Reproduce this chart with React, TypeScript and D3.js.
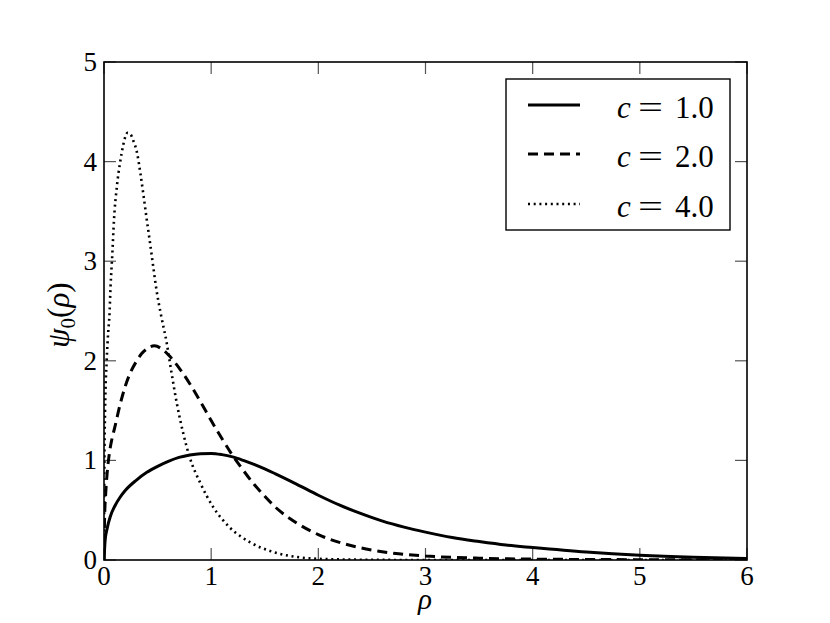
import React from "react";
import * as d3 from "d3";

const xTicks = [0, 1, 2, 3, 4, 5, 6];
const yTicks = [0, 1, 2, 3, 4, 5];

const rho1 = [0, 0.01, 0.03, 0.06, 0.1, 0.15, 0.2, 0.3, 0.4, 0.5, 0.6, 0.7, 0.8, 0.9, 1.0, 1.1, 1.2, 1.3, 1.4, 1.5, 1.6, 1.8, 2.0, 2.2, 2.4, 2.6, 2.8, 3.0, 3.25, 3.5, 3.75, 4.0, 4.5, 5.0, 5.5, 6.0];
const psi1 = [0, 0.19, 0.32, 0.44, 0.54, 0.63, 0.7, 0.8, 0.88, 0.94, 0.99, 1.03, 1.055, 1.068, 1.07, 1.058, 1.035, 1.0, 0.96, 0.915, 0.865, 0.76, 0.65, 0.55, 0.465, 0.39, 0.33, 0.28, 0.225, 0.185, 0.15, 0.125, 0.08, 0.048, 0.028, 0.016];

const rho2 = [0, 0.005, 0.015, 0.03, 0.05, 0.075, 0.1, 0.15, 0.2, 0.25, 0.3, 0.35, 0.4, 0.47, 0.55, 0.6, 0.7, 0.8, 0.9, 1.0, 1.1, 1.2, 1.3, 1.4, 1.5, 1.6, 1.8, 2.0, 2.25, 2.5, 2.75, 3.0, 3.5, 4.0, 5.0, 6.0];
const psi2 = [0, 0.4, 0.65, 0.88, 1.07, 1.22, 1.33, 1.56, 1.75, 1.89, 1.99, 2.07, 2.12, 2.15, 2.11, 2.06, 1.93, 1.77, 1.59, 1.4, 1.22, 1.05, 0.9, 0.76, 0.64, 0.53, 0.37, 0.255, 0.16, 0.1, 0.062, 0.04, 0.018, 0.009, 0.003, 0.001];

const rho4 = [0, 0.003, 0.01, 0.025, 0.04, 0.05, 0.061, 0.078, 0.093, 0.12, 0.15, 0.18, 0.22, 0.25, 0.27, 0.31, 0.34, 0.37, 0.4, 0.43, 0.46, 0.49, 0.53, 0.585, 0.63, 0.68, 0.74, 0.8, 0.9, 1.02, 1.17, 1.36, 1.58, 1.8, 2.0, 2.5, 3.0, 6.0];
const psi4 = [0, 0.9, 1.5, 2.0, 2.3, 2.44, 2.74, 3.08, 3.41, 3.75, 3.99, 4.17, 4.29, 4.27, 4.22, 4.08, 3.88, 3.65, 3.41, 3.18, 2.94, 2.71, 2.47, 2.18, 1.88, 1.57, 1.27, 1.03, 0.77, 0.53, 0.33, 0.18, 0.08, 0.03, 0.012, 0.002, 0, 0];

const legendLabels = ["1.0", "2.0", "4.0"];

const FONT = '"Liberation Serif", "Times New Roman", "DejaVu Serif", serif';

export default function App() {
  const left = 104, right = 747, top = 62, bottom = 560;
  const x = d3.scaleLinear().domain([0, 6]).range([left, right]);
  const y = d3.scaleLinear().domain([0, 5]).range([bottom, top]);

  const line = d3
    .line<[number, number]>()
    .x((d) => x(d[0]))
    .y((d) => y(d[1]))
    .curve(d3.curveMonotoneX);

  const series = [
    { r: rho1, v: psi1, dash: undefined as string | undefined, w: 3 },
    { r: rho2, v: psi2, dash: "10,6", w: 3 },
    { r: rho4, v: psi4, dash: "2,3.7", w: 2.6 },
  ];

  const tickLen = 12;
  const tickColor = "#555";

  const legX = 506, legY = 79, legW = 224, legH = 151;
  const rows = [105, 154, 204];
  const fs = { fontFamily: FONT };

  return (
    <svg width={830} height={623} style={{ position: "absolute", left: 0, top: 0, fontFamily: FONT }}>
      <rect x={0} y={0} width={830} height={623} fill="white" />
      <defs>
        <clipPath id="plot">
          <rect x={left} y={top} width={right - left} height={bottom - top} />
        </clipPath>
      </defs>

      {xTicks.map((t) => (
        <g key={"xt" + t}>
          <line x1={x(t)} x2={x(t)} y1={bottom} y2={bottom - tickLen} stroke={tickColor} strokeWidth={1.2} />
          <line x1={x(t)} x2={x(t)} y1={top} y2={top + tickLen} stroke={tickColor} strokeWidth={1.2} />
          <text x={x(t)} y={585} textAnchor="middle" fontSize={27} style={fs}>{t}</text>
        </g>
      ))}
      {yTicks.map((t) => (
        <g key={"yt" + t}>
          <line x1={left} x2={left + tickLen} y1={y(t)} y2={y(t)} stroke={tickColor} strokeWidth={1.2} />
          <line x1={right} x2={right - tickLen} y1={y(t)} y2={y(t)} stroke={tickColor} strokeWidth={1.2} />
          <text x={97} y={y(t) + 9} textAnchor="end" fontSize={27} style={fs}>{t}</text>
        </g>
      ))}

      <g clipPath="url(#plot)">
        {series.map((s, i) => (
          <path
            key={i}
            d={line(s.r.map((r, j) => [r, s.v[j]] as [number, number])) || ""}
            fill="none"
            stroke="black"
            strokeWidth={s.w}
            strokeDasharray={s.dash}
          />
        ))}
      </g>

      <rect x={left} y={top} width={right - left} height={bottom - top} fill="none" stroke="black" strokeWidth={1.6} />

      <rect x={legX} y={legY} width={legW} height={legH} fill="white" stroke="black" strokeWidth={1.4} />
      {series.map((s, i) => (
        <g key={"lg" + i}>
          <line x1={528} x2={580} y1={rows[i]} y2={rows[i]} stroke="black" strokeWidth={s.w} strokeDasharray={s.dash} />
          <text x={617} y={rows[i] + 13} fontSize={31} fontStyle="italic" style={fs}>c</text>
          <text x={638} y={rows[i] + 13} fontSize={31} textLength={25} lengthAdjust="spacingAndGlyphs" style={fs}>=</text>
          <text x={675} y={rows[i] + 13} fontSize={31} style={fs}>{legendLabels[i]}</text>
        </g>
      ))}

      <text x={425} y={609} textAnchor="middle" fontSize={29} fontStyle="italic" style={fs}>ρ</text>
      <text transform="translate(69,315) rotate(-90)" textAnchor="middle" fontSize={31} style={fs}>
        <tspan fontStyle="italic">ψ</tspan>
        <tspan fontSize={21} dy={6}>0</tspan>
        <tspan dy={-6}>(</tspan>
        <tspan fontStyle="italic">ρ</tspan>
        <tspan>)</tspan>
      </text>
    </svg>
  );
}
